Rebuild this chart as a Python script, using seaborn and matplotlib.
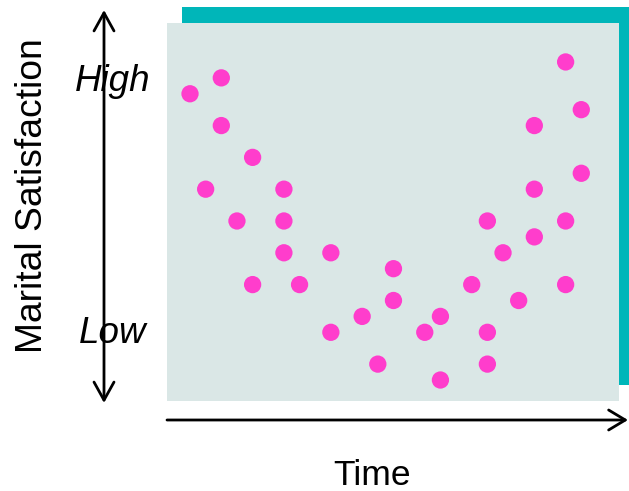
import matplotlib
matplotlib.use("Agg")
import matplotlib.pyplot as plt
import seaborn as sns
import pandas as pd
from matplotlib.patches import Rectangle

# Data (time step, satisfaction level)
time = [0, 2, 2, 4, 1, 6, 3, 6, 6, 4, 7, 9, 9, 11, 12, 13, 13, 15, 16, 16,
        18, 19, 19, 19, 20, 21, 22, 22, 22, 24, 24, 24, 25, 25]
satisfaction = [18, 19, 16, 14, 12, 12, 10, 10, 8, 6, 6, 8, 3, 4, 1, 7, 5, 3, 4, 0,
                6, 10, 3, 1, 8, 5, 16, 12, 9, 20, 10, 6, 17, 13]
y_labels = ["High", "Low"]
y_label_levels = [18.8, 2.95]
x_title = "Time"
y_title = "Marital Satisfaction"

df = pd.DataFrame({"Time": time, "Satisfaction": satisfaction})

W, H = 629, 491
fig = plt.figure(figsize=(W / 100, H / 100), dpi=100)
fig.patch.set_facecolor("white")

def fx(px):
    return px / W

def fy(py):
    return 1 - py / H

# teal backing frame
fig.patches.append(Rectangle((fx(182), fy(385)), fx(629) - fx(182) + 0.01, fy(7) - fy(385),
                             transform=fig.transFigure, facecolor="#00b6b9",
                             edgecolor="none", zorder=0))

ax = fig.add_axes([fx(167), fy(401), fx(619) - fx(167), fy(23) - fy(401)])
ax.set_zorder(1)
ax.set_facecolor("#dae7e6")
sns.scatterplot(data=df, x="Time", y="Satisfaction", ax=ax, s=155,
                color="#ff3dcc", linewidth=0, edgecolor="none")
ax.set_xlim(-1.47, 27.41)
ax.set_ylim(-1.32, 22.45)
for sp in ax.spines.values():
    sp.set_visible(False)
ax.set_xticks([])
ax.set_yticks([])
ax.set_xlabel("")
ax.set_ylabel("")

font = "Liberation Sans"
# vertical double arrow
ax.annotate("", xy=(104, H - 10), xytext=(104, H - 403), xycoords="figure pixels",
            textcoords="figure pixels", annotation_clip=False,
            arrowprops=dict(arrowstyle="<->,head_length=0.65,head_width=0.36",
                            lw=2.0, color="black", mutation_scale=20,
                            shrinkA=0, shrinkB=0))
# horizontal arrow
ax.annotate("", xy=(628, H - 420), xytext=(167, H - 420), xycoords="figure pixels",
            textcoords="figure pixels", annotation_clip=False,
            arrowprops=dict(arrowstyle="->,head_length=0.6,head_width=0.36",
                            lw=2.0, color="black", mutation_scale=20,
                            shrinkA=0, shrinkB=0))

# High / Low labels placed at their data levels
for lab, lev in zip(y_labels, y_label_levels):
    ybase = ax.transData.transform((0, lev))[1]
    fig.text(fx(113), ybase / H, lab, ha="center", va="center",
             fontsize=26.5, fontstyle="italic", family=font, zorder=2)

fig.text(fx(372), fy(485), x_title, ha="center", va="baseline",
         fontsize=25.5, family=font)
fig.text(fx(33), fy(196), y_title, ha="center", va="center", rotation=90,
         fontsize=26.8, family=font)

fig.savefig("out.png", dpi=100)
